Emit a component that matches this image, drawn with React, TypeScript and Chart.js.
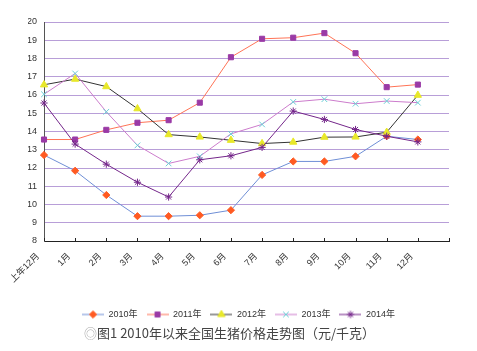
import React, { useEffect, useRef } from 'react';
import { Chart, registerables } from 'chart.js';
import { drawPoint } from 'chart.js/helpers';

Chart.register(...registerables);

const categories = ['上年12月', '1月', '2月', '3月', '4月', '5月', '6月', '7月', '8月', '9月', '10月', '11月', '12月', ''];
const seriesNames = ['2010年', '2011年', '2012年', '2013年', '2014年'];
const s2010 = [12.71, 11.85, 10.52, 9.36, 9.36, 9.41, 9.69, 11.62, 12.36, 12.36, 12.64, 13.74, 13.56];
const s2011 = [13.56, 13.56, 14.09, 14.48, 14.62, 15.58, 18.07, 19.08, 19.14, 19.39, 18.29, 16.43, 16.57];
const s2012 = [16.56, 16.87, 16.46, 15.25, 13.83, 13.7, 13.52, 13.34, 13.42, 13.69, 13.7, 13.96, 15.99];
const s2013 = [16.04, 17.18, 15.08, 13.24, 12.25, 12.64, 13.87, 14.39, 15.62, 15.77, 15.52, 15.67, 15.58];
const s2014 = [15.56, 13.31, 12.21, 11.22, 10.41, 12.45, 12.67, 13.13, 15.12, 14.66, 14.11, 13.74, 13.43];
const yMin = 8;
const yMax = 20;
const caption = '图1  2010年以来全国生猪价格走势图（元/千克）';

const styles = [
  { line: '#6f8fd6', marker: '#ff5a22', point: 'rectRot', radius: 3.6, bw: 1 },
  { line: '#ff7356', marker: '#9a3aa6', point: 'rect', radius: 3.6, bw: 1 },
  { line: '#333333', marker: '#e8e82a', point: 'triangle', radius: 4.2, bw: 1 },
  { line: '#cc7ccc', marker: '#6ccfd6', point: 'crossRot', radius: 4, bw: 1 },
  { line: '#74268a', marker: '#74268a', point: 'star', radius: 3.6, bw: 1 },
];

function makeIcon(st: any): HTMLCanvasElement {
  const c = document.createElement('canvas');
  c.width = 22;
  c.height = 10;
  const ctx = c.getContext('2d')!;
  ctx.strokeStyle = st.line;
  ctx.lineWidth = 1;
  ctx.beginPath();
  ctx.moveTo(0, 5);
  ctx.lineTo(22, 5);
  ctx.stroke();
  ctx.fillStyle = st.marker;
  ctx.strokeStyle = st.marker;
  drawPoint(ctx, { pointStyle: st.point, radius: st.radius, rotation: 0, borderWidth: st.bw } as any, 11, 5);
  return c;
}

const innerTicks = {
  id: 'innerTicks',
  afterDatasetsDraw(chart: any) {
    const xs = chart.scales.x;
    const ctx = chart.ctx;
    ctx.save();
    ctx.strokeStyle = '#222';
    ctx.lineWidth = 1;
    const n = xs.ticks.length;
    for (let i = 0; i < n; i++) {
      const x = Math.round(xs.getPixelForTick(i)) + 0.5;
      ctx.beginPath();
      ctx.moveTo(x, xs.top - 3);
      ctx.lineTo(x, xs.top);
      ctx.stroke();
    }
    ctx.restore();
  },
};

export default function App() {
  const ref = useRef<HTMLCanvasElement>(null);
  useEffect(() => {
    const all = [s2010, s2011, s2012, s2013, s2014];
    const icons = styles.map(makeIcon);
    const chart = new Chart(ref.current!, {
      type: 'line',
      data: {
        labels: categories,
        datasets: all.map((d, i) => ({
          label: seriesNames[i],
          data: d,
          borderColor: styles[i].line,
          backgroundColor: styles[i].marker,
          pointBackgroundColor: styles[i].marker,
          pointBorderColor: styles[i].marker,
          pointStyle: styles[i].point as any,
          pointRadius: styles[i].radius,
          pointBorderWidth: styles[i].bw,
          borderWidth: 1,
          tension: 0,
          fill: false,
          order: 5 - i,
        })),
      },
      options: {
        animation: false,
        responsive: false,
        layout: { padding: { top: 22, right: 28, left: 28, bottom: 22 } },
        plugins: {
          tooltip: { enabled: false },
          legend: {
            position: 'bottom',
            labels: {
              usePointStyle: true,
              pointStyleWidth: 22,
              boxHeight: 9,
              padding: 9,
              color: '#333',
              font: { family: '"Liberation Sans", Arial, "Noto Sans CJK SC"', size: 9 },
              generateLabels: (ch: any) =>
                ch.data.datasets.map((ds: any, i: number) => ({
                  text: ds.label,
                  pointStyle: icons[i],
                  fillStyle: styles[i].marker,
                  strokeStyle: styles[i].line,
                  lineWidth: 0,
                  hidden: false,
                  datasetIndex: i,
                  fontColor: '#333',
                })),
            },
          },
        },
        scales: {
          x: {
            type: 'category',
            offset: false,
            grid: { display: false, drawTicks: false },
            border: { display: true, color: '#222', width: 1 },
            afterFit: (s: any) => { s.height = 60; },
            ticks: {
              autoSkip: false,
              maxRotation: 45,
              minRotation: 45,
              padding: 10,
              labelOffset: -6,
              color: '#333',
              font: { family: '"Liberation Sans", Arial, "Noto Sans CJK SC"', size: 9 },
            },
          },
          y: {
            min: yMin,
            max: yMax,
            afterFit: (s: any) => { s.width = 16; },
            grid: { color: '#b89ed8', lineWidth: 1, drawTicks: false },
            border: { display: true, color: '#555', width: 1 },
            ticks: {
              stepSize: 1,
              padding: 7,
              color: '#333',
              font: { family: '"Liberation Sans", Arial', size: 9 },
            },
          },
        },
      },
      plugins: [innerTicks],
    });
    return () => chart.destroy();
  }, []);

  return (
    <div style={{ position: 'absolute', left: 0, top: 0, width: 477, height: 351, background: '#fff' }}>
      <canvas ref={ref} width={477} height={351} style={{ position: 'absolute', left: 0, top: 0 }} />
      <div
        style={{
          position: 'absolute',
          left: 84,
          top: 325,
          whiteSpace: 'nowrap',
          fontFamily: '"Noto Sans CJK SC", sans-serif',
          fontSize: 13,
          lineHeight: '16px',
          color: '#444',
        }}
      >
        <span style={{ color: '#aaa' }}>◎</span>
        {caption}
      </div>
    </div>
  );
}
